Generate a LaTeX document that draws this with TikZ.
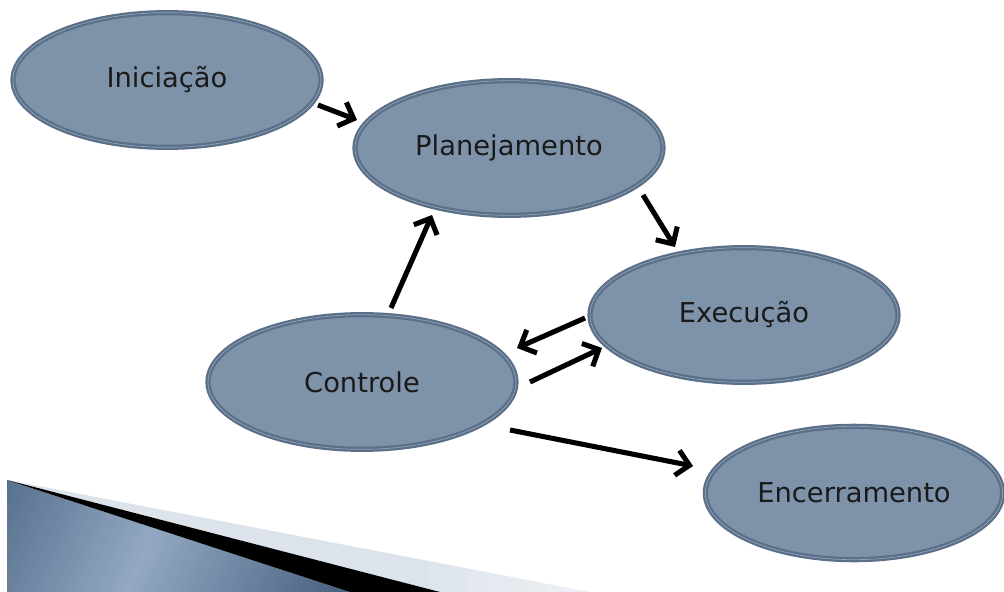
\documentclass[tikz,border=0pt]{standalone}
\usepackage{fontspec}
\setmainfont{DejaVu Sans}
\usetikzlibrary{shapes.geometric,arrows.meta}
\definecolor{efill}{HTML}{7E93AA}
\definecolor{eedge}{HTML}{5B6F88}
\definecolor{einner}{HTML}{91A4BA}
\definecolor{etext}{HTML}{1A1A1A}
\definecolor{bdark}{HTML}{46607F}
\definecolor{blight}{HTML}{93A9C2}
\definecolor{lband}{HTML}{DCE3EA}
\begin{document}
\begin{tikzpicture}[x=0.75pt,y=-0.75pt,
  phase/.style={ellipse, fill=efill, draw=eedge, line width=1.7pt, inner sep=0pt,
    double=einner, double distance=0.5pt,
    minimum width=231pt, minimum height=101pt,
    font=\fontsize{20.5}{24}\selectfont, text=etext},
  arr/.style={line width=3.8pt, -{Straight Barb[length=9.5pt,width=19pt]}}
]
\useasboundingbox (0,0) rectangle (1004,592);
% bottom-left decoration: light band
\begin{scope}
  \clip (7,480) -- (590,592) -- (440,592) -- cycle;
  \foreach \i in {0,...,29} {
    \pgfmathsetmacro{\p}{\i<20 ? 100 : 100-(\i-20)*6}
    \fill[lband!\p!white] (7+20*\i,470) rectangle (7+20*\i+21,600);
  }
\end{scope}
% blue wedge with gradient
\begin{scope}
  \clip (7,480) -- (350,592) -- (7,592) -- cycle;
  \foreach \i in {0,...,80} {
    \pgfmathsetmacro{\t}{\i/80}
    \pgfmathsetmacro{\p}{max(0,100*(1-abs(\t-0.45)/0.55))}
    \fill[blight!\p!bdark] (-60+5*\i,600) -- (-60+5*\i+6,600) -- (-60+5*\i+6+60,470) -- (-60+5*\i+60,470) -- cycle;
  }
\end{scope}
\fill[black] (7,480) -- (440,592) -- (350,592) -- cycle;
% phases
\node[phase] (ini) at (167,80) {Iniciação};
\node[phase] (plan) at (509,148) {Planejamento};
\node[phase] (exe) at (744,315) {Execução};
\node[phase] (ctl) at (362,382) {Controle};
\node[phase, minimum width=223pt, minimum height=100pt] (enc) at (854,493) {Encerramento};
% connectors
\draw[arr] ([shift={(151,25)}]ini.center) -- ([shift={(-152,-28)}]plan.center);
\draw[arr] ([shift={(134,47)}]plan.center) -- ([shift={(-69,-68)}]exe.center);
\draw[arr] ([shift={(29,-74)}]ctl.center) -- ([shift={(-77,67)}]plan.center);
\draw[arr] ([shift={(-159,3)}]exe.center) -- ([shift={(155,-34)}]ctl.center);
\draw[arr] ([shift={(168,0)}]ctl.center) -- ([shift={(-142,33)}]exe.center);
\draw[arr] ([shift={(148,48)}]ctl.center) -- ([shift={(-161,-27)}]enc.center);
\end{tikzpicture}
\end{document}
